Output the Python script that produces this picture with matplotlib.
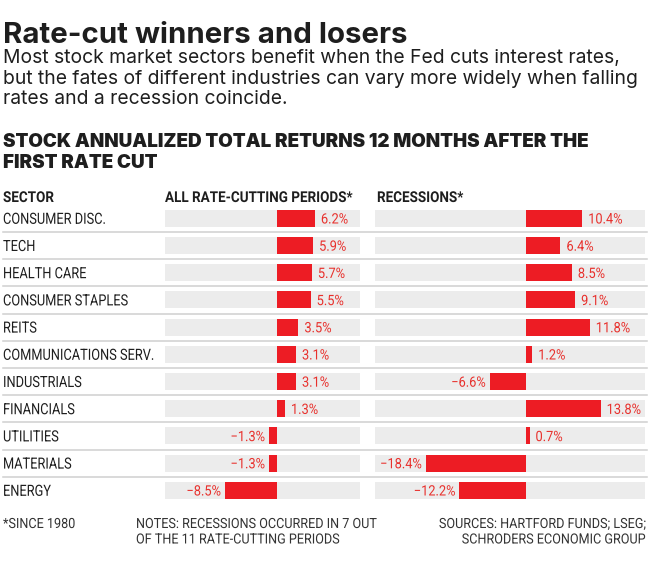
import matplotlib
matplotlib.use('Agg')
import matplotlib.pyplot as plt
from matplotlib.patheffects import AbstractPathEffect
from matplotlib.transforms import Affine2D

# 数据
sectors = ['CONSUMER DISC.', 'TECH', 'HEALTH CARE', 'CONSUMER STAPLES', 'REITS',
           'COMMUNICATIONS SERV.', 'INDUSTRIALS', 'FINANCIALS', 'UTILITIES',
           'MATERIALS', 'ENERGY']
all_periods = [6.2, 5.9, 5.7, 5.5, 3.5, 3.1, 3.1, 1.3, -1.3, -1.3, -8.5]
recessions = [10.4, 6.4, 8.5, 9.1, 11.8, 1.2, -6.6, 13.8, 0.7, -18.4, -12.2]

RED = '#ed1c24'
LABEL_RED = '#e8302c'
GREY = '#ececec'
INK = '#1e1e1e'

MAIN = 'Inter'
NARROW = 'Roboto'
PT = 1.389  # 每磅像素数（dpi=100）

W, H = 650, 570
fig = plt.figure(figsize=(W / 100, H / 100), dpi=100)
renderer = fig.canvas.get_renderer()


class Squeeze(AbstractPathEffect):
    """横向压缩文字，模拟窄体字体"""

    def __init__(self, text, sx):
        super().__init__()
        self.text = text
        self.sx = sx

    def draw_path(self, renderer, gc, tpath, affine, rgbFace=None):
        x0 = self.text.get_transform().transform(self.text.get_position())[0]
        squash = Affine2D().translate(-x0, 0).scale(self.sx, 1).translate(x0, 0)
        renderer.draw_path(gc, tpath, affine + squash, rgbFace)


def fx(px):
    return px / W


def fy(py):
    return 1 - py / H


def width_of(text, **kw):
    t = fig.text(0, 0, text, **kw)
    w = t.get_window_extent(renderer).width
    t.remove()
    return w


def fit(text, target, **kw):
    # 按像素宽度反推字号
    return 10 * target / width_of(text, fontsize=10, **kw)


def size_for_cap(cap_px):
    return cap_px / 0.711 / PT


def squeeze(t, sx):
    t.set_path_effects([Squeeze(t, sx)])
    return t


# 标题
s_title = fit('Rate-cut winners and losers', 405, family=MAIN, fontweight='bold')
fig.text(fx(3), fy(43), 'Rate-cut winners and losers', family=MAIN, fontweight='bold',
         fontsize=s_title, color=INK, va='baseline')
subtitle = ['Most stock market sectors benefit when the Fed cuts interest rates,',
            'but the fates of different industries can vary more widely when falling',
            'rates and a recession coincide.']
s_sub = fit(subtitle[0], 619, family=MAIN)
for i, line in enumerate(subtitle):
    fig.text(fx(3), fy(63 + 20.5 * i), line, family=MAIN, fontsize=s_sub,
             color=INK, va='baseline')

head = 'STOCK ANNUALIZED TOTAL RETURNS 12 MONTHS AFTER THE'
s_head = fit(head, 585, family=MAIN, fontweight='black')
fig.text(fx(3), fy(147), head, family=MAIN, fontweight='black', fontsize=s_head,
         color=INK, va='baseline')
fig.text(fx(3), fy(168), 'FIRST RATE CUT', family=MAIN, fontweight='black',
         fontsize=s_head, color=INK, va='baseline')

# 窄体文字：行内文字按字高定字号，再按宽度定压缩比；
# 列标题和脚注压缩少一点，免得未压缩的文字框互相重叠
SX_COL = 0.9
s_col = fit('ALL RATE-CUTTING PERIODS*', 187 / SX_COL, family=NARROW, fontweight='bold')
s_lab = size_for_cap(11)
sx_lab = 125 / width_of('CONSUMER STAPLES', family=NARROW, fontsize=s_lab)
s_val = size_for_cap(10.2)
sx_val = 34.3 / width_of('10.4%', family=NARROW, fontsize=s_val)
SX_FOOT = 0.9
s_foot = fit('NOTES: RECESSIONS OCCURRED IN 7 OUT', 239 / SX_FOOT, family=NARROW)

# 列标题
for x, s in [(3, 'SECTOR'), (165, 'ALL RATE-CUTTING PERIODS*'), (377, 'RECESSIONS*')]:
    squeeze(fig.text(fx(x), fy(202), s, family=NARROW, fontweight='bold', fontsize=s_col,
                     color=INK, va='baseline'), SX_COL)

# 表格区域
row0, step = 218.3, 27.2
n = len(sectors)
top_px = row0 - step / 2
bot_px = row0 + step * (n - 0.5)

# 背景轴：分隔线和行业名称
bg = fig.add_axes([0, fy(bot_px), 1, (bot_px - top_px) / H])
bg.set_xlim(0, W)
bg.set_ylim(n - 0.5, -0.5)
bg.axis('off')
for i in range(n - 1):
    bg.axhline(i + 0.5, xmin=3 / W, xmax=647 / W, color='#cfcfcf', lw=1.1)
for i, s in enumerate(sectors):
    squeeze(bg.text(3, i + 5.5 / step, s, family=NARROW, fontsize=s_lab, color=INK,
                    va='baseline'), sx_lab)


def panel(x0, x1, zero_px, scale, vals):
    lo = (x0 - zero_px) / scale
    hi = (x1 - zero_px) / scale
    ax = fig.add_axes([fx(x0), fy(bot_px), (x1 - x0) / W, (bot_px - top_px) / H])
    ax.set_xlim(lo, hi)
    ax.set_ylim(n - 0.5, -0.5)
    ax.axis('off')
    ys = range(n)
    ax.barh(ys, [hi - lo] * n, left=lo, height=0.63, color=GREY, lw=0)
    ax.barh(ys, vals, height=0.63, color=RED, lw=0)
    for y, v in zip(ys, vals):
        txt = f'{v:.1f}%'.replace('-', '\u2212')
        if v >= 0:
            t = ax.text(v + 6 / scale, y + 5.2 / step, txt, family=NARROW, fontsize=s_val,
                        color=LABEL_RED, ha='left', va='baseline')
        else:
            t = ax.text(v - 4 / scale, y + 5.2 / step, txt, family=NARROW, fontsize=s_val,
                        color=LABEL_RED, ha='right', va='baseline')
        squeeze(t, sx_val)
    return ax


panel(165, 360, 277.0, 6.12, all_periods)
panel(375, 645, 525.7, 5.43, recessions)

# 注释
foot = dict(family=NARROW, fontsize=s_foot, color='#333333', va='baseline')
squeeze(fig.text(fx(3), fy(528), '*SINCE 1980', **foot), SX_FOOT)
squeeze(fig.text(fx(136), fy(528), 'NOTES: RECESSIONS OCCURRED IN 7 OUT', **foot), SX_FOOT)
squeeze(fig.text(fx(136), fy(543.5), 'OF THE 11 RATE-CUTTING PERIODS', **foot), SX_FOOT)
squeeze(fig.text(fx(645), fy(528), 'SOURCES: HARTFORD FUNDS; LSEG;', ha='right', **foot), SX_FOOT)
squeeze(fig.text(fx(645), fy(543.5), 'SCHRODERS ECONOMIC GROUP', ha='right', **foot), SX_FOOT)

fig.savefig('out.png', dpi=100, facecolor='white')
